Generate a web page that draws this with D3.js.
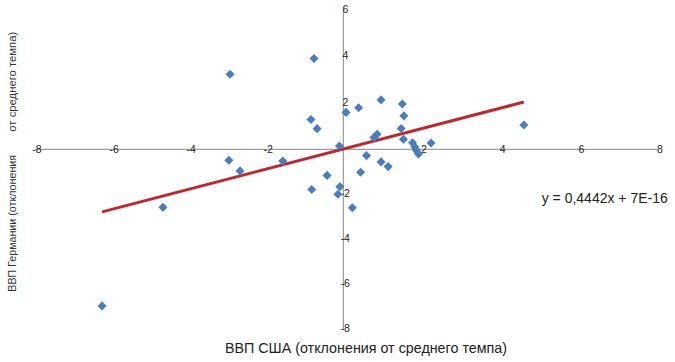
<!DOCTYPE html>
<html>
<head>
<meta charset="utf-8">
<script src="https://cdn.jsdelivr.net/npm/d3@7"></script>
<style>
    html, body { margin: 0; padding: 0; background: #ffffff; }
    svg { display: block; }
</style>
</head>
<body>
<div id="chart"></div>
<script>
// US GDP deviation (x) vs German GDP deviation (y)
var usX = [-2.94, -0.76, -0.84, -0.68, -0.10, -2.97, -2.68, -1.57, -0.42, -4.68, -6.26, -0.82, -0.09, -0.14,
            0.07, 0.39, 0.96, 1.50, 1.54, 1.47, 0.86, 0.78, 1.53, 1.76, 1.82, 1.86, 1.91, 2.23,
            0.59, 0.96, 1.14, 0.44, 4.59, 0.23];
var deY = [3.23, 3.91, 1.28, 0.89, 0.14, -0.49, -0.96, -0.52, -1.16, -2.58, -6.96, -1.79, -1.66, -2.00,
            1.59, 1.79, 2.13, 1.95, 1.44, 0.90, 0.65, 0.51, 0.43, 0.28, 0.10, -0.05, -0.21, 0.27,
           -0.28, -0.56, -0.77, -1.02, 1.05, -2.60];
var xTicks = [-8, -6, -4, -2, 2, 4, 6, 8];
var yTicks = [-8, -6, -4, -2, 2, 4, 6];
var trendSlope = 0.4442;
var trendIntercept = 0;
var equationLabel = "y = 0,4442x + 7E-16";
var xTitle = "ВВП США (отклонения от среднего темпа)";
var yTitleLow = "ВВП Германии (отклонения";
var yTitleHigh = "от среднего темпа)";

(function(){
    var width = 675, height = 362;

    var svg = d3.select("#chart").append("svg")
        .attr("width", width)
        .attr("height", height);

    /*
     * axes cross at zero, so the scales are split at the origin
     */
    var x = d3.scaleLinear().domain([-8, 0, 8]).range([35, 343.3, 658]);
    var y = d3.scaleLinear().domain([-8, 0, 6]).range([329.3, 149.3, 10]);

    var axisColor = "#868686";
    var tickFont = "'Liberation Sans', Arial, sans-serif";

    svg.append("line")
        .attr("x1", x(-8)).attr("x2", x(8))
        .attr("y1", y(0)).attr("y2", y(0))
        .attr("stroke", axisColor)
        .attr("stroke-width", 1);

    svg.append("line")
        .attr("x1", x(0)).attr("x2", x(0))
        .attr("y1", y(6)).attr("y2", y(-8))
        .attr("stroke", axisColor)
        .attr("stroke-width", 1);

    // tick labels sit right on the axis lines
    svg.append("g")
        .selectAll(".xlabel")
        .data(xTicks)
        .enter().append("text")
        .attr("class", "xlabel")
        .attr("x", function (d) { return x(d) + 2; })
        .attr("y", y(0))
        .attr("dy", "0.35em")
        .attr("text-anchor", "middle")
        .style("font-family", tickFont)
        .style("font-size", "10.5px")
        .attr("fill", "#222")
        .text(function (d) { return d; });

    svg.append("g")
        .selectAll(".ylabel")
        .data(yTicks)
        .enter().append("text")
        .attr("class", "ylabel")
        .attr("x", x(0) + 2)
        .attr("y", function (d) { return y(d) - 1; })
        .attr("dy", "0.35em")
        .attr("text-anchor", "middle")
        .style("font-family", tickFont)
        .style("font-size", "10.5px")
        .attr("fill", "#222")
        .text(function (d) { return d; });

    /*
     * linear trend over the span of the data
     */
    var xMin = d3.min(usX), xMax = d3.max(usX);
    svg.append("line")
        .attr("x1", x(xMin))
        .attr("y1", y(trendSlope * xMin + trendIntercept))
        .attr("x2", x(xMax))
        .attr("y2", y(trendSlope * xMax + trendIntercept))
        .attr("stroke", "#b92a2f")
        .attr("stroke-width", 3);

    var points = usX.map(function (d, i) { return { x: d, y: deY[i] }; });
    var diamond = d3.symbol().type(d3.symbolSquare).size(41);

    svg.append("g")
        .selectAll(".point")
        .data(points)
        .enter().append("path")
        .attr("class", "point")
        .attr("d", diamond)
        .attr("transform", function (d) { return "translate(" + x(d.x) + "," + y(d.y) + ") rotate(45)"; })
        .attr("fill", "#4a7ebb");

    svg.append("text")
        .attr("x", 541.7)
        .attr("y", 203)
        .style("font-family", tickFont)
        .style("font-size", "14px")
        .attr("fill", "#222")
        .text(equationLabel);

    svg.append("text")
        .attr("x", 366)
        .attr("y", 353)
        .attr("text-anchor", "middle")
        .style("font-family", tickFont)
        .style("font-size", "14.3px")
        .attr("fill", "#222")
        .text(xTitle);

    svg.append("text")
        .attr("transform", "translate(16,291.7) rotate(-90)")
        .style("font-family", tickFont)
        .style("font-size", "10.7px")
        .attr("fill", "#333")
        .text(yTitleLow);

    svg.append("text")
        .attr("transform", "translate(16,131.7) rotate(-90)")
        .style("font-family", tickFont)
        .style("font-size", "11.3px")
        .attr("fill", "#333")
        .text(yTitleHigh);
})();
</script>
</body>
</html>
